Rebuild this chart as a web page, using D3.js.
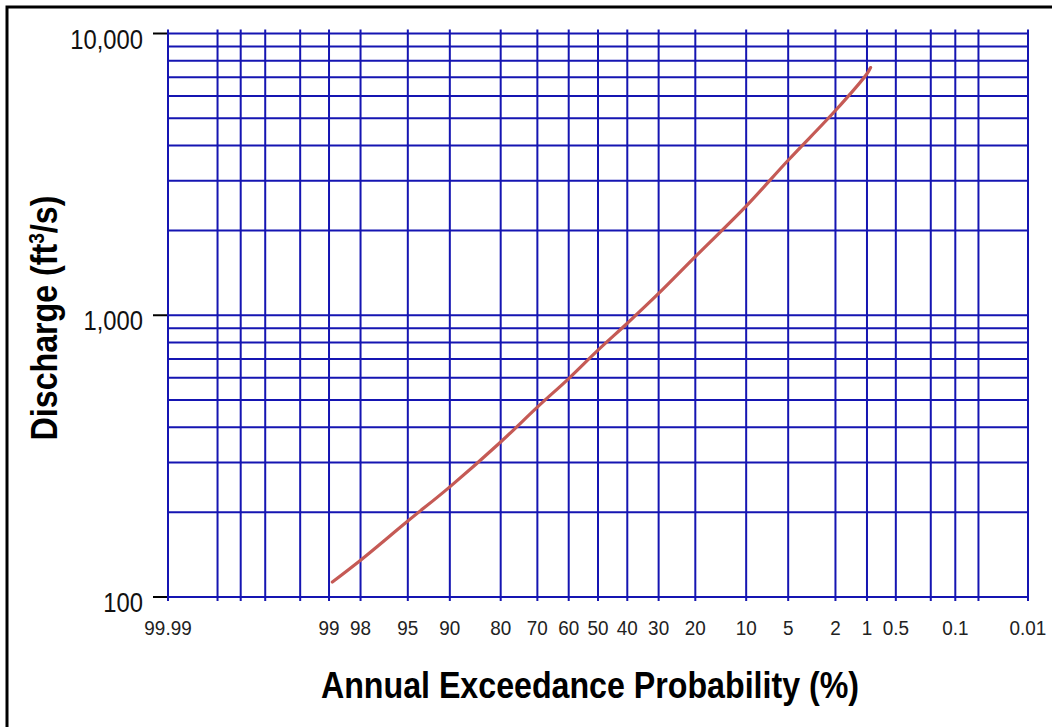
<!DOCTYPE html>
<html>
<head>
<meta charset="utf-8">
<script src="https://cdn.jsdelivr.net/npm/d3@7"></script>
<style>
  html, body { margin: 0; padding: 0; background: #fff; }
  svg { display: block; font-family: "Liberation Sans", Arial, sans-serif; }
</style>
</head>
<body>
<svg id="chart" width="1052" height="727"></svg>
<script>
// ---- data ----
const aepGrid = [99.99, 99.95, 99.9, 99.8, 99.5, 99, 98, 95, 90, 80, 70, 60, 50, 40, 30, 20, 10, 5, 2, 1, 0.5, 0.2, 0.1, 0.05, 0.01];
const aepLabels = ["99.99", "99", "98", "95", "90", "80", "70", "60", "50", "40", "30", "20", "10", "5", "2", "1", "0.5", "0.1", "0.01"];
const qGrid = [100, 200, 300, 400, 500, 600, 700, 800, 900, 1000, 2000, 3000, 4000, 5000, 6000, 7000, 8000, 9000, 10000];
const qTicks = [100, 1000, 10000];
const qTickLabels = ["100", "1,000", "10,000"];
const curveAep = [98.92, 98, 95, 90, 80, 70, 60, 50, 40, 30, 20, 10, 5, 2, 1, 0.92];
const curveQ = [113, 135, 186, 246, 355, 472, 596, 752, 937, 1195, 1615, 2440, 3550, 5330, 7200, 7570];

// inverse standard normal CDF (Acklam) - probability-paper transform
function probit(p) {
  const a = [-3.969683028665376e+01, 2.209460984245205e+02, -2.759285104469687e+02, 1.383577518672690e+02, -3.066479806614716e+01, 2.506628277459239e+00];
  const b = [-5.447609879822406e+01, 1.615858368580409e+02, -1.556989798598866e+02, 6.680131188771972e+01, -1.328068155288572e+01];
  const c = [-7.784894002430293e-03, -3.223964580411365e-01, -2.400758277161838e+00, -2.549732539343734e+00, 4.374664141464968e+00, 2.938163982698783e+00];
  const d = [7.784695709041462e-03, 3.224671290700398e-01, 2.445134137142996e+00, 3.754408661907416e+00];
  const pl = 0.02425, ph = 1 - pl;
  let q, r;
  if (p < pl) {
    q = Math.sqrt(-2 * Math.log(p));
    return (((((c[0]*q+c[1])*q+c[2])*q+c[3])*q+c[4])*q+c[5]) / ((((d[0]*q+d[1])*q+d[2])*q+d[3])*q+1);
  } else if (p <= ph) {
    q = p - 0.5; r = q*q;
    return (((((a[0]*r+a[1])*r+a[2])*r+a[3])*r+a[4])*r+a[5])*q / (((((b[0]*r+b[1])*r+b[2])*r+b[3])*r+b[4])*r+1);
  } else {
    q = Math.sqrt(-2 * Math.log(1 - p));
    return -(((((c[0]*q+c[1])*q+c[2])*q+c[3])*q+c[4])*q+c[5]) / ((((d[0]*q+d[1])*q+d[2])*q+d[3])*q+1);
  }
}
const zOf = aep => probit(1 - aep / 100);

const L = 168, R = 1028, T = 33.5, B = 597;
const xz = d3.scaleLinear().domain([zOf(99.99), zOf(0.01)]).range([L, R]);
const x = aep => xz(zOf(aep));
const y = d3.scaleLog().domain([100, 10000]).range([B, T]);

const svg = d3.select("#chart");
const gridColor = "#1515b2";

// border (top and left)
svg.append("path").attr("d", "M7,727V7H1052").attr("fill", "none").attr("stroke", "#000").attr("stroke-width", 3);

// horizontal grid
svg.append("g").selectAll("line").data(qGrid).join("line")
  .attr("x1", L).attr("x2", R)
  .attr("y1", d => y(d)).attr("y2", d => y(d))
  .attr("stroke", gridColor).attr("stroke-width", 2);

// vertical grid
svg.append("g").selectAll("line").data(aepGrid).join("line")
  .attr("x1", d => x(d)).attr("x2", d => x(d))
  .attr("y1", T - 4).attr("y2", B + 4)
  .attr("stroke", gridColor).attr("stroke-width", 2);

// y ticks
svg.append("g").selectAll("line").data(qTicks).join("line")
  .attr("x1", 153).attr("x2", L - 1)
  .attr("y1", d => y(d)).attr("y2", d => y(d))
  .attr("stroke", "#000").attr("stroke-width", 2);

svg.append("g").selectAll("text").data(qTicks).join("text")
  .attr("transform", d => `translate(143,${y(d) + 15}) scale(0.85,1)`)
  .attr("text-anchor", "end")
  .attr("font-size", 28)
  .attr("fill", "#111")
  .text((d, i) => qTickLabels[i]);

// x tick labels
svg.append("g").selectAll("text").data(aepLabels).join("text")
  .attr("transform", d => `translate(${x(+d)},635) scale(0.9,1)`)
  .attr("text-anchor", "middle")
  .attr("font-size", 21)
  .attr("fill", "#222")
  .text(d => d);

// curve
const line = d3.line().x((d, i) => x(curveAep[i])).y(d => y(d)).curve(d3.curveCatmullRom);
svg.append("path").datum(curveQ)
  .attr("d", line)
  .attr("fill", "none").attr("stroke", "#c55a55").attr("stroke-width", 3.2)
  .attr("stroke-linecap", "round").attr("stroke-linejoin", "round");

// axis titles
svg.append("text")
  .attr("transform", "translate(590,698) scale(0.87,1)")
  .attr("text-anchor", "middle").attr("font-size", 37).attr("font-weight", "bold").attr("fill", "#000")
  .text("Annual Exceedance Probability (%)");

const yt = svg.append("text")
  .attr("transform", "translate(57,318) rotate(-90) scale(0.87,1)")
  .attr("text-anchor", "middle").attr("font-size", 37).attr("font-weight", "bold").attr("fill", "#000");
yt.append("tspan").text("Discharge (ft");
yt.append("tspan").attr("font-size", 22).attr("dy", -13).text("3");
yt.append("tspan").attr("dy", 13).text("/s)");
</script>
</body>
</html>
